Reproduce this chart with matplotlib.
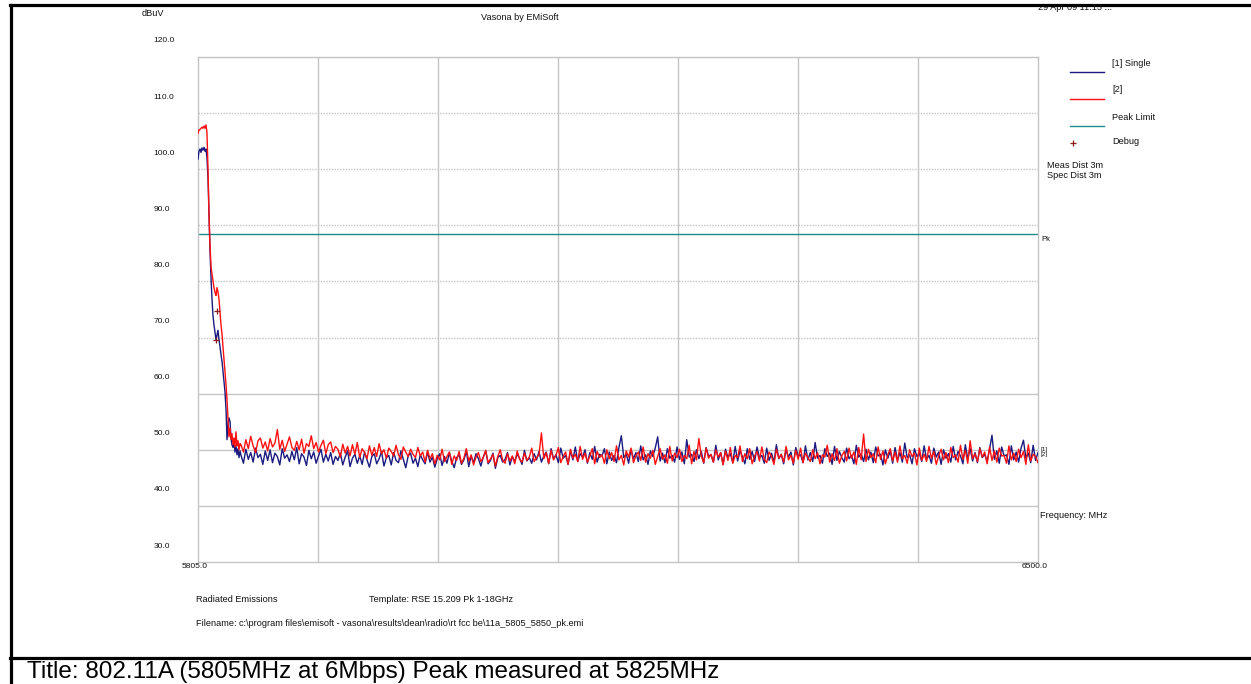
import numpy as np
import matplotlib
matplotlib.use("Agg")
import matplotlib.pyplot as plt
from matplotlib.lines import Line2D
from matplotlib.patches import Rectangle
import matplotlib.transforms as mtransforms

plt.rcParams['font.family'] = ['Liberation Sans', 'DejaVu Sans']

# ---- sweep data -------------------------------------------------------------
f_start, f_stop = 5805.0, 6500.0

# steep skirt right at the start of the sweep (MHz / dBuV)
single_head_mhz = [5805.0, 5805.8, 5806.7, 5807.5, 5808.3, 5809.1, 5810.0, 5810.8,
                   5811.6, 5812.4, 5813.3, 5814.1, 5814.9, 5815.8, 5816.6, 5817.4,
                   5818.2, 5819.1, 5819.9, 5820.7, 5821.5, 5822.4, 5823.2, 5824.0,
                   5824.9, 5825.7, 5826.5, 5827.3, 5828.2, 5829.0, 5829.8, 5830.6,
                   5831.5, 5832.3, 5833.1, 5834.0, 5834.8, 5835.6, 5836.4, 5837.3,
                   5838.1, 5838.9, 5839.8]
single_head_dbuv = [101.8, 103.2, 103.6, 103.0, 103.8, 103.4, 103.9, 103.2,
                    103.6, 102.1, 98.2, 92.0, 85.7, 80.4, 76.8, 73.9,
                    72.3, 70.9, 69.6, 70.4, 71.3, 69.6, 68.4, 67.0,
                    65.7, 63.9, 62.1, 60.4, 57.1, 51.8, 54.5, 55.7,
                    55.0, 52.1, 50.9, 50.4, 51.4, 49.6, 50.7, 49.1,
                    50.2, 48.6, 49.8]

second_head_mhz = [5805.0, 5805.8, 5806.7, 5808.3, 5809.1, 5810.0, 5810.8, 5811.6,
                   5812.4, 5813.3, 5814.1, 5814.9, 5815.8, 5816.6, 5817.4, 5818.2,
                   5819.1, 5819.9, 5820.7, 5821.5, 5822.4, 5823.2, 5824.0, 5824.9,
                   5825.7, 5826.5, 5827.3, 5828.2, 5829.0, 5829.8, 5830.6, 5831.5,
                   5832.3, 5833.1, 5834.0, 5834.8, 5835.6, 5836.4, 5837.3, 5838.1,
                   5838.9, 5839.8]
second_head_dbuv = [106.4, 107.0, 107.1, 107.5, 107.3, 107.7, 107.3, 107.9,
                    106.6, 100.0, 92.0, 86.6, 82.5, 81.3, 80.0, 78.9,
                    78.0, 77.5, 78.9, 78.2, 76.8, 74.6, 72.3, 70.5,
                    68.2, 66.1, 63.9, 61.6, 58.9, 55.4, 52.3, 53.9,
                    51.8, 52.9, 50.9, 52.1, 50.5, 53.2, 50.7, 51.6,
                    50.0, 51.1]

# noise floor, uniformly spaced sweep points from 5840.6 MHz to the stop frequency
floor_start = 5840.6
single_floor_dbuv = [
    49.0, 47.6, 50.1, 48.3, 49.5, 47.8, 50.3, 48.6, 49.2, 47.4,
    49.8, 48.1, 50.0, 47.7, 49.4, 48.8, 47.3, 50.2, 48.5, 49.1,
    47.9, 49.7, 48.2, 50.4, 47.5, 49.3, 48.7, 47.2, 49.9, 48.4,
    49.6, 47.6, 48.9, 50.1, 47.8, 49.2, 48.0, 49.5, 47.4, 48.8,
    48.1, 49.4, 47.3, 48.7, 49.8, 47.0, 48.5, 49.2, 47.6, 48.9,
    47.4, 49.6, 48.2, 46.9, 48.8, 49.3, 47.5, 48.4, 49.7, 47.1,
    48.6, 49.0, 47.3, 49.5, 48.1, 47.7, 49.8, 48.3, 46.8, 48.9,
    49.4, 47.6, 48.5, 47.0, 49.1, 48.2, 47.5, 49.6, 47.8, 48.7,
    46.9, 48.4, 49.3, 47.2, 48.8, 47.6, 49.5, 48.0, 46.8, 48.6,
    49.1, 47.4, 48.2, 49.7, 47.0, 48.9, 47.7, 49.3, 48.4, 47.1,
    48.7, 49.8, 47.5, 48.1, 49.4, 46.7, 48.6, 49.0, 47.8, 48.3,
    49.5, 47.3, 48.8, 47.9, 49.2, 48.5, 47.4, 49.9, 48.0, 48.6,
    47.6, 49.3, 48.2, 49.7, 47.8, 48.9, 49.6, 47.5, 50.2, 48.4,
    49.1, 47.7, 50.3, 48.5, 49.0, 47.4, 49.8, 48.2, 50.5, 47.9,
    49.3, 48.7, 50.0, 47.6, 49.5, 48.3, 50.6, 47.8, 49.2, 48.9,
    50.2, 47.5, 49.6, 48.1, 49.0, 47.7, 50.4, 52.5, 48.6, 49.3,
    47.6, 50.1, 48.4, 49.5, 47.9, 50.7, 48.2, 49.1, 47.4, 49.8,
    48.8, 50.3, 52.3, 48.0, 49.4, 47.7, 50.2, 48.5, 49.0, 47.8,
    50.5, 48.3, 49.6, 47.5, 51.8, 48.7, 49.2, 47.9, 50.0, 48.4,
    49.7, 47.6, 50.4, 48.9, 49.1, 47.8, 50.8, 48.2, 49.5, 47.4,
    50.1, 48.6, 49.3, 47.7, 50.6, 48.0, 49.8, 48.8, 47.5, 50.2,
    48.3, 49.7, 47.9, 50.5, 48.6, 49.0, 47.6, 50.3, 48.1, 49.4,
    47.8, 50.9, 48.4, 49.2, 47.5, 50.0, 48.7, 49.6, 47.3, 50.4,
    48.9, 49.1, 47.7, 50.7, 48.2, 49.5, 47.9, 51.3, 48.5, 49.0,
    47.6, 50.2, 48.8, 49.4, 47.4, 50.6, 48.1, 49.7, 48.6, 47.8,
    50.3, 48.4, 49.0, 47.5, 50.8, 48.7, 49.3, 47.9, 50.1, 48.2,
    49.6, 47.7, 50.5, 48.9, 49.2, 47.3, 50.0, 48.5, 49.8, 47.6,
    50.4, 48.1, 49.5, 47.8, 51.2, 48.6, 49.1, 47.5, 50.2, 48.8,
    49.4, 47.9, 50.7, 48.3, 49.0, 47.6, 50.3, 48.7, 49.6, 47.4,
    50.0, 48.5, 49.3, 47.8, 50.6, 48.2, 49.7, 48.9, 47.5, 50.9,
    48.4, 50.2, 48.0, 49.5, 47.7, 50.4, 48.6, 49.2, 47.9, 50.1,
    52.6, 48.3, 49.8, 47.6, 50.5, 48.9, 49.1, 47.4, 50.7, 48.2,
    49.6, 47.8, 50.3, 51.7, 48.5, 49.4, 47.7, 50.8, 48.1, 49.5]

second_floor_dbuv = [
    50.9, 49.6, 51.8, 50.2, 52.4, 50.7, 49.5, 51.6, 52.1, 50.3,
    51.4, 49.8, 52.0, 50.5, 51.2, 53.6, 50.1, 51.7, 49.7, 51.0,
    52.3, 50.4, 49.9, 51.5, 50.0, 51.9, 49.4, 51.1, 50.6, 52.5,
    50.2, 51.3, 49.6, 50.8, 51.7, 49.3, 50.9, 51.4, 49.5, 50.6,
    50.1, 48.7, 51.0, 49.4, 50.6, 48.9, 50.9, 49.2, 51.3, 48.6,
    50.2, 49.5, 48.4, 50.7, 49.0, 50.4, 48.8, 51.1, 49.3, 50.0,
    48.5, 50.3, 49.7, 48.9, 50.8, 49.1, 48.3, 50.5, 49.6, 48.8,
    50.1, 49.2, 48.6, 50.4, 48.9, 49.6, 47.8, 49.9, 48.4, 49.3,
    47.5, 49.0, 48.2, 50.1, 47.9, 48.8, 49.6, 47.4, 48.9, 48.1,
    49.7, 47.6, 48.5, 50.2, 48.0, 49.1, 47.3, 48.7, 49.5, 47.9,
    48.6, 49.9, 47.7, 48.4, 49.2, 47.1, 48.8, 50.0, 48.2, 47.6,
    49.3, 48.0, 48.9, 47.5, 49.8, 48.3, 47.8, 49.4, 48.1, 48.7,
    50.3, 47.9, 48.6, 49.1, 53.0, 48.4, 49.5, 47.6, 49.9, 48.2,
    49.0, 50.4, 47.7, 48.8, 49.6, 47.4, 50.1, 48.5, 49.2, 47.9,
    50.6, 48.3, 49.4, 47.8, 48.9, 50.2, 47.5, 49.7, 48.6, 49.1,
    47.6, 50.0, 48.4, 49.5, 47.9, 50.7, 48.2, 49.0, 47.3, 49.8,
    48.7, 50.3, 47.7, 48.9, 49.6, 48.1, 50.5, 47.8, 49.3, 48.5,
    49.9, 47.4, 48.8, 50.2, 48.3, 49.1, 47.6, 50.6, 48.0, 49.4,
    48.6, 50.1, 47.9, 49.0, 48.4, 50.8, 47.5, 49.7, 48.2, 52.0,
    48.9, 47.7, 50.3, 48.5, 49.2, 47.8, 50.0, 48.7, 49.5, 47.3,
    49.8, 48.1, 50.4, 47.6, 49.0, 48.6, 50.7, 47.9, 49.3, 48.4,
    50.2, 47.5, 48.9, 49.7, 48.0, 50.5, 48.3, 47.7, 49.6, 48.8,
    47.4, 50.1, 48.5, 49.2, 47.8, 50.6, 48.2, 49.0, 47.6, 49.9,
    48.3, 50.3, 47.7, 49.4, 48.6, 47.9, 50.0, 48.4, 49.5, 47.5,
    49.1, 48.7, 50.8, 47.8, 49.3, 48.1, 50.2, 47.6, 48.9, 49.7,
    48.0, 50.3, 48.5, 49.6, 47.4, 50.4, 48.2, 52.8, 47.9, 50.1,
    48.6, 49.3, 47.7, 50.5, 48.3, 49.8, 47.5, 49.1, 50.2, 48.0,
    49.6, 47.8, 50.7, 48.4, 49.0, 47.6, 50.0, 48.8, 49.4, 47.3,
    50.3, 48.1, 49.2, 47.9, 50.6, 48.5, 49.7, 47.4, 48.9, 50.1,
    48.2, 49.5, 47.7, 50.4, 48.6, 49.1, 47.8, 50.8, 48.3, 49.9,
    47.6, 51.6, 48.4, 49.3, 47.9, 50.2, 48.7, 49.6, 47.5, 50.5,
    48.1, 49.8, 47.8, 50.3, 48.9, 49.0, 47.6, 50.7, 48.2, 49.4,
    47.9, 50.1, 48.6, 49.7, 47.4, 50.9, 48.0, 49.2, 48.8, 47.7]

peak_limit_mhz = [5805.0, 6500.0]
peak_limit_dbuv = [88.4, 88.4]

debug_mhz = [5821.1, 5820.3]
debug_dbuv = [74.8, 69.5]

y_ticks = [30, 40, 50, 60, 70, 80, 90, 100, 110, 120]
y_tick_labels = ["30.0", "40.0", "50.0", "60.0", "70.0", "80.0", "90.0", "100.0", "110.0", "120.0"]
x_tick_labels = ["5805.0", "6500.0"]
n_vgrid = 7

# ---- figure -----------------------------------------------------------------
W, H = 1251, 684
fig = plt.figure(figsize=(W / 100, H / 100), dpi=100)
fig.patch.set_facecolor("white")


def fx(px):
    return px / W


def fy(py):
    return 1 - py / H


ax_l, ax_r, ax_t, ax_b = 198, 1038, 57, 562
ax = fig.add_axes([fx(ax_l), fy(ax_b), (ax_r - ax_l) / W, (ax_b - ax_t) / H])
ax.set_xlim(f_start, f_stop)
ax.set_ylim(y_ticks[0], y_ticks[-1])
ax.set_xticks([])
ax.set_yticks([])

grid_c = "#c4c4c4"
for s in ("left", "top", "right"):
    ax.spines[s].set_color(grid_c)
    ax.spines[s].set_linewidth(1.0)
ax.spines["bottom"].set_color(grid_c)
ax.spines["bottom"].set_linestyle((0, (1, 1)))
ax.spines["bottom"].set_linewidth(1.0)

# grid: dotted upper horizontals, solid lower ones, solid verticals
for v in y_ticks[1:-1]:
    ls = (0, (1, 1)) if v >= 70 else "-"
    ax.axhline(v, color=grid_c, lw=1.0, ls=ls, zorder=0)
for k in range(1, n_vgrid):
    ax.axvline(f_start + k * (f_stop - f_start) / n_vgrid, color=grid_c, lw=1.0, zorder=0)

# traces
floor_single_mhz = np.linspace(floor_start, f_stop, len(single_floor_dbuv))
floor_second_mhz = np.linspace(floor_start, f_stop, len(second_floor_dbuv))
single_mhz = np.concatenate([single_head_mhz, floor_single_mhz])
single_db = np.concatenate([single_head_dbuv, single_floor_dbuv])
second_mhz = np.concatenate([second_head_mhz, floor_second_mhz])
second_db = np.concatenate([second_head_dbuv, second_floor_dbuv])

c_single, c_second, c_limit, c_debug = "#1a1a80", "#ff1010", "#1f8c8c", "#8b1a1a"
ax.plot(single_mhz, single_db, color=c_single, lw=1.0, zorder=3)
ax.plot(second_mhz, second_db, color=c_second, lw=1.0, zorder=4)
ax.plot(peak_limit_mhz, peak_limit_dbuv, color=c_limit, lw=1.0, zorder=2)
ax.plot(debug_mhz, debug_dbuv, ls="none", marker="+", ms=5, mew=0.9, color=c_debug, zorder=5)

small = dict(fontsize=6.6, color="#111111")

# y tick labels sit a little above their grid line
lab_tr = mtransforms.offset_copy(ax.get_yaxis_transform(), fig=fig, x=0, y=16 * 0.72, units="points")
for v, t in zip(y_ticks, y_tick_labels):
    ax.text(-0.053, v, t, transform=lab_tr, ha="left", va="center", fontsize=6.0,
            color="#111111", clip_on=False)
# x tick labels at start and stop
xl_tr = mtransforms.offset_copy(ax.get_xaxis_transform(), fig=fig, x=-3, y=-4, units="dots")
ax.text(f_start, 0, x_tick_labels[0], transform=xl_tr, ha="center", va="center",
        fontsize=6.0, color="#111111", clip_on=False)
ax.text(f_stop, 0, x_tick_labels[1], transform=xl_tr, ha="center", va="center",
        fontsize=6.0, color="#111111", clip_on=False)

# trace end labels (stacked tightly at the right edge)
end_tr = mtransforms.offset_copy(ax.transData, fig=fig, x=3, y=0, units="dots")
floor_end = single_floor_dbuv[-1]
ax.text(f_stop, peak_limit_dbuv[-1] - 0.9, "Pk", transform=end_tr, ha="left", va="center",
        fontsize=5.5, color="#111111", clip_on=False)
ax.text(f_stop, floor_end + 0.5, "[1]", transform=end_tr, ha="left", va="center",
        fontsize=4.5, color="#111111", clip_on=False)
ax.text(f_stop, floor_end - 0.4, "[2]", transform=end_tr, ha="left", va="center",
        fontsize=4.5, color="#111111", clip_on=False)

# header
fig.text(fx(142), fy(14), "dBuV", ha="left", va="center", **small)
fig.text(fx(520), fy(17), "Vasona by EMiSoft", ha="center", va="center", **small)
fig.text(fx(1038), fy(8), "29 Apr 09 11:15 ...", ha="left", va="center", **small)

# legend block
leg_x0, leg_x1, leg_tx = 1070, 1104, 1112
legend_rows = [
    ("line", c_single, 72, "[1] Single", 63),
    ("line", c_second, 99, "[2]", 90),
    ("line", c_limit, 126, "Peak Limit", 117),
    ("plus", c_debug, 143, "Debug", 142),
]
for kind, col, ly, label, ty in legend_rows:
    if kind == "line":
        fig.add_artist(Line2D([fx(leg_x0), fx(leg_x1)], [fy(ly), fy(ly)], color=col, lw=1.0,
                              transform=fig.transFigure))
    else:
        fig.add_artist(Line2D([fx(1073)], [fy(ly)], ls="none", marker="+", ms=4, mew=0.9, color=col,
                              transform=fig.transFigure))
    fig.text(fx(leg_tx), fy(ty), label, ha="left", va="center", **small)

fig.text(fx(1047), fy(165), "Meas Dist 3m", ha="left", va="center", **small)
fig.text(fx(1047), fy(176), "Spec Dist 3m", ha="left", va="center", **small)
fig.text(fx(1040), fy(516), "Frequency: MHz", ha="left", va="center", **small)

# footer
fig.text(fx(196), fy(599), "Radiated Emissions", ha="left", va="center", **small)
fig.text(fx(369), fy(599), "Template: RSE 15.209 Pk 1-18GHz", ha="left", va="center", **small)
fig.text(fx(196), fy(623),
         "Filename: c:\\program files\\emisoft - vasona\\results\\dean\\radio\\rt fcc be\\11a_5805_5850_pk.emi",
         ha="left", va="center", **small)

# page frame
fig.add_artist(Rectangle((0, fy(3)), 1, 3 / H, transform=fig.transFigure, color="white", zorder=9))
fig.add_artist(Line2D([fx(9.5), 1], [fy(4.5), fy(4.5)], color="black", lw=2.3, transform=fig.transFigure, zorder=10))
fig.add_artist(Line2D([fx(10.5), fx(10.5)], [fy(4.5), 0], color="black", lw=2.3, transform=fig.transFigure, zorder=10))
fig.add_artist(Line2D([fx(9.5), 1], [fy(658), fy(658)], color="black", lw=2.3, transform=fig.transFigure, zorder=10))

fig.text(fx(27), fy(672), "Title: 802.11A (5805MHz at 6Mbps) Peak measured at 5825MHz",
         ha="left", va="center", fontsize=17.5, color="black")

fig.savefig("out.png", dpi=100, facecolor="white")
